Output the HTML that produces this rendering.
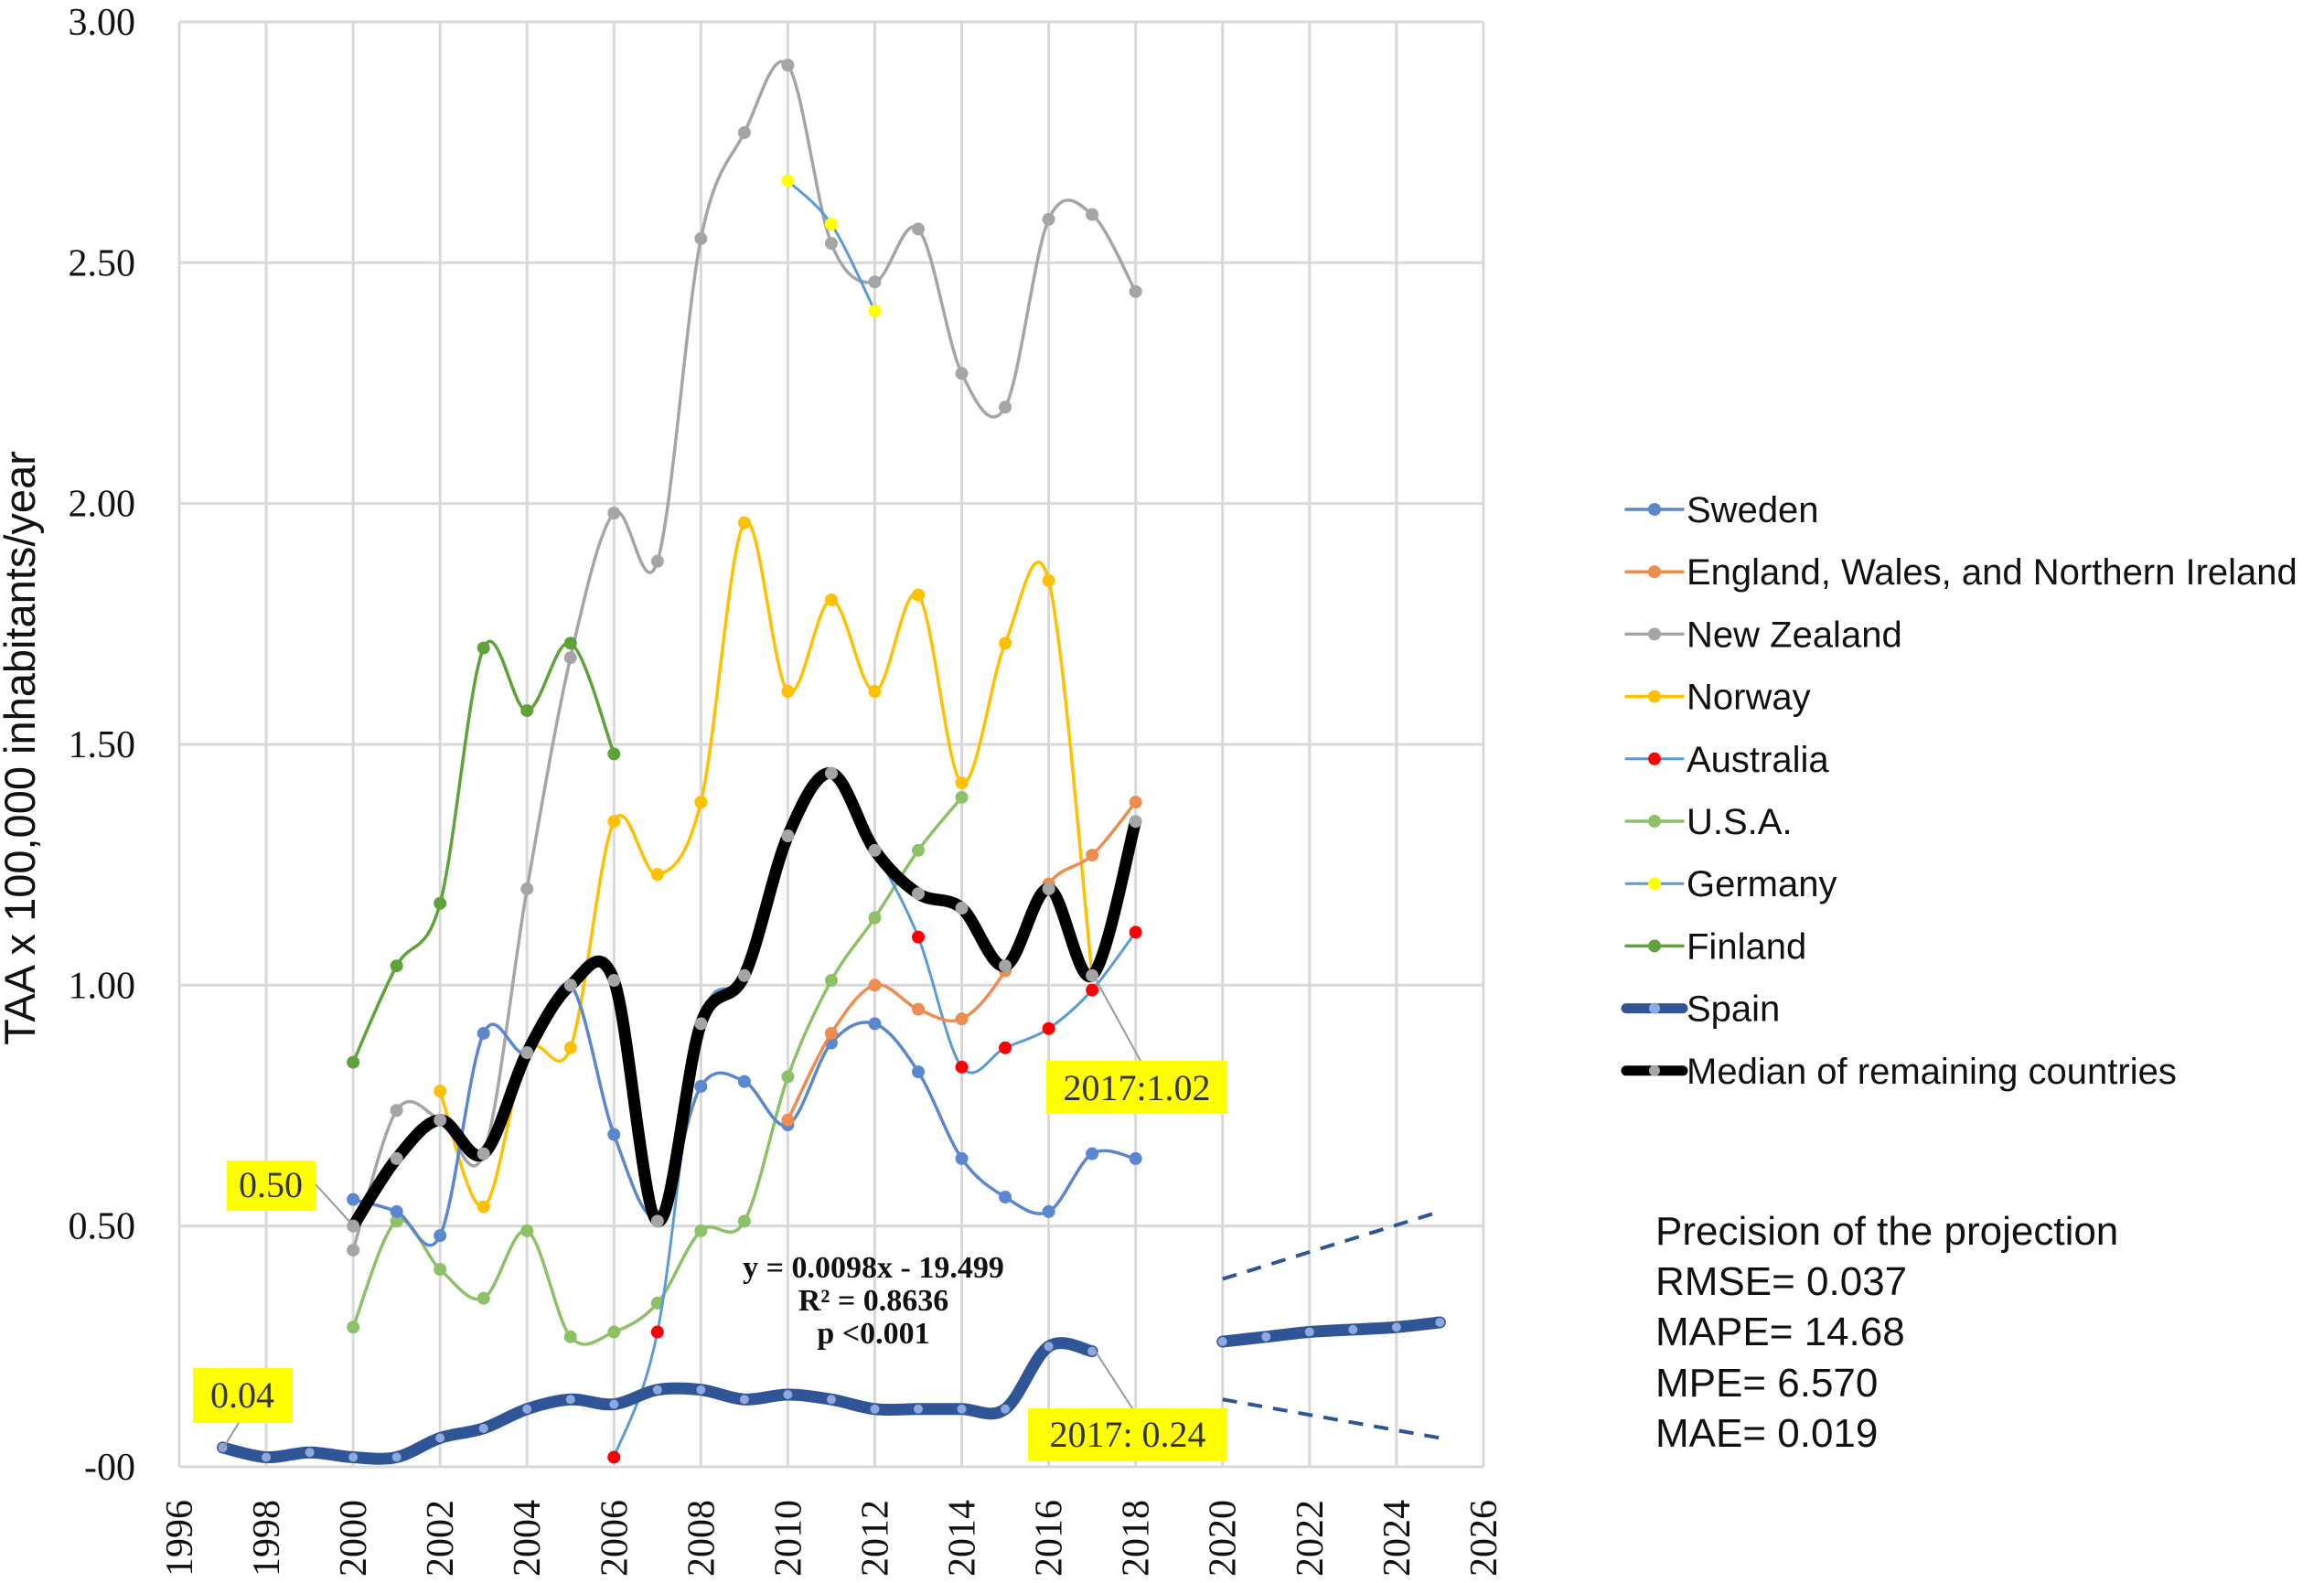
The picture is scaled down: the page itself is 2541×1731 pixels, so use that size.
<!DOCTYPE html>
<html><head><meta charset="utf-8"><style>
html,body{margin:0;padding:0;background:#fff;}
svg{display:block;}
</style></head><body>
<svg id="chart" width="2541" height="1731" viewBox="0 0 2541 1731" xmlns="http://www.w3.org/2000/svg">
<g id="grid"></g>
<g id="series"></g>
<g id="axes"></g>
<text transform="translate(38,818) rotate(-90)" text-anchor="middle" font-family="Liberation Sans, sans-serif" font-size="47" fill="#111">TAA x 100,000 inhabitants/year</text>
<g><line x1="345" y1="1295" x2="386" y2="1340" stroke="#999" stroke-width="2"/><rect x="248" y="1269" width="97" height="55" fill="#ffff00"/><text x="296" y="1309" text-anchor="middle" font-family="Liberation Serif, serif" font-size="40" fill="#333">0.50</text></g>
<g><line x1="261" y1="1556" x2="243" y2="1585" stroke="#999" stroke-width="2"/><rect x="211" y="1496" width="109" height="60" fill="#ffff00"/><text x="265" y="1539" text-anchor="middle" font-family="Liberation Serif, serif" font-size="40" fill="#333">0.04</text></g>
<g><line x1="1196" y1="1067" x2="1247" y2="1160" stroke="#999" stroke-width="2"/><rect x="1144" y="1160" width="198" height="58" fill="#ffff00"/><text x="1243" y="1203" text-anchor="middle" font-family="Liberation Serif, serif" font-size="40" fill="#333">2017:1.02</text></g>
<g><line x1="1196" y1="1475" x2="1238" y2="1540" stroke="#999" stroke-width="2"/><rect x="1124" y="1540" width="218" height="57" fill="#ffff00"/><text x="1233" y="1582" text-anchor="middle" font-family="Liberation Serif, serif" font-size="40" fill="#333">2017: 0.24</text></g>
<g font-family="Liberation Serif, serif" font-size="34" fill="#111" text-anchor="middle" font-weight="bold">
<text x="955" y="1397">y = 0.0098x - 19.499</text>
<text x="955" y="1433">R² = 0.8636</text>
<text x="955" y="1469">p &lt;0.001</text>
</g>
<g id="legend"></g>
<g font-family="Liberation Sans, sans-serif" font-size="44" fill="#111">
<text x="1810" y="1361">Precision of the projection</text>
<text x="1810" y="1416">RMSE= 0.037</text>
<text x="1810" y="1471">MAPE= 14.68</text>
<text x="1810" y="1527">MPE= 6.570</text>
<text x="1810" y="1582">MAE= 0.019</text>
</g>
</svg>
<script>
const years = [1996,1997,1998,1999,2000,2001,2002,2003,2004,2005,2006,2007,2008,2009,2010,2011,2012,2013,2014,2015,2016,2017,2018];
const yTicks = [0,0.5,1,1.5,2,2.5,3];
const yTickLabels = ["-00","0.50","1.00","1.50","2.00","2.50","3.00"];
const xTicks = [1996,1998,2000,2002,2004,2006,2008,2010,2012,2014,2016,2018,2020,2022,2024,2026];

const swedenYears = [2000,2001,2002,2003,2004,2005,2006,2007,2008,2009,2010,2011,2012,2013,2014,2015,2016,2017,2018];
const swedenVals  = [0.555,0.53,0.48,0.90,0.86,1.00,0.69,0.52,0.79,0.80,0.71,0.88,0.92,0.82,0.64,0.56,0.53,0.65,0.64];
const englandYears = [2010,2011,2012,2013,2014,2015,2016,2017,2018];
const englandVals  = [0.72,0.90,1.00,0.95,0.93,1.03,1.21,1.27,1.38];
const nzYears = [2000,2001,2002,2003,2004,2005,2006,2007,2008,2009,2010,2011,2012,2013,2014,2015,2016,2017,2018];
const nzVals  = [0.45,0.74,0.72,0.65,1.20,1.68,1.98,1.88,2.55,2.77,2.91,2.54,2.46,2.57,2.27,2.20,2.59,2.60,2.44];
const norwayYears = [2002,2003,2004,2005,2006,2007,2008,2009,2010,2011,2012,2013,2014,2015,2016,2017];
const norwayVals  = [0.78,0.54,0.86,0.87,1.34,1.23,1.38,1.96,1.61,1.80,1.61,1.81,1.42,1.71,1.84,1.02];
const australiaYears = [2006,2007,2008,2009,2010,2011,2012,2013,2014,2015,2016,2017,2018];
const australiaVals  = [0.02,0.28,0.92,1.02,1.30,1.44,1.28,1.10,0.83,0.87,0.91,0.99,1.11];
const australiaMarked = [1,1,0,0,0,0,0,1,1,1,1,1,1];
const usaYears = [2000,2001,2002,2003,2004,2005,2006,2007,2008,2009,2010,2011,2012,2013,2014];
const usaVals  = [0.29,0.51,0.41,0.35,0.49,0.27,0.28,0.34,0.49,0.51,0.81,1.01,1.14,1.28,1.39];
const germanyYears = [2010,2011,2012];
const germanyVals  = [2.67,2.58,2.40];
const finlandYears = [2000,2001,2002,2003,2004,2005,2006];
const finlandVals  = [0.84,1.04,1.17,1.70,1.57,1.71,1.48];
const spainYears = [1997,1998,1999,2000,2001,2002,2003,2004,2005,2006,2007,2008,2009,2010,2011,2012,2013,2014,2015,2016,2017];
const spainVals  = [0.04,0.02,0.03,0.02,0.02,0.06,0.08,0.12,0.14,0.13,0.16,0.16,0.14,0.15,0.14,0.12,0.12,0.12,0.12,0.25,0.24];
const projYears = [2020,2021,2022,2023,2024,2025];
const projVals  = [0.26,0.27,0.28,0.285,0.29,0.30];
const projUpper = [0.39,0.53];
const projLower = [0.14,0.06];
const medianYears = [2000,2001,2002,2003,2004,2005,2006,2007,2008,2009,2010,2011,2012,2013,2014,2015,2016,2017,2018];
const medianVals  = [0.50,0.64,0.72,0.65,0.86,1.00,1.01,0.51,0.92,1.02,1.31,1.44,1.28,1.19,1.16,1.04,1.20,1.02,1.34];

const NS='http://www.w3.org/2000/svg';
const X0=196, XPX=47.53, Y0=1604, YPX=526.7;
function X(yr){return X0+(yr-1996)*XPX;}
function Y(v){return Y0-v*YPX;}
function mk(tag,attrs,parent){const e=document.createElementNS(NS,tag);for(const k in attrs)e.setAttribute(k,attrs[k]);parent.appendChild(e);return e;}
function smooth(pts){
  if(pts.length<2)return '';
  let d='M'+pts[0][0]+','+pts[0][1];
  for(let i=0;i<pts.length-1;i++){
    const p0=pts[i-1]||pts[i],p1=pts[i],p2=pts[i+1],p3=pts[i+2]||p2;
    const c1=[p1[0]+(p2[0]-p0[0])/6,p1[1]+(p2[1]-p0[1])/6];
    const c2=[p2[0]-(p3[0]-p1[0])/6,p2[1]-(p3[1]-p1[1])/6];
    d+=' C'+c1[0]+','+c1[1]+' '+c2[0]+','+c2[1]+' '+p2[0]+','+p2[1];
  }
  return d;
}
const grid=document.getElementById('grid');
for(let yr=1996;yr<=2026;yr+=2){
  const l=mk('line',{x1:X(yr),x2:X(yr),y1:Y(3),y2:Y(0),stroke:'#d9d9d9','stroke-width':3},grid);
  
  
}
yTicks.forEach(v=>{
  const l=mk('line',{x1:X(1996),x2:X(2026),y1:Y(v),y2:Y(v),stroke:'#d9d9d9','stroke-width':3},grid);
  
  
});
const axes=document.getElementById('axes');
yTicks.forEach((v,i)=>{
  const t=mk('text',{x:148,y:Y(v)+14,'text-anchor':'end','font-family':'Liberation Serif, serif','font-size':42,fill:'#111'},axes);
  t.textContent=yTickLabels[i];
  
  
});
xTicks.forEach(yr=>{
  const t=mk('text',{transform:'translate('+(X(yr)+14)+',1724) rotate(-90)','text-anchor':'start','font-family':'Liberation Serif, serif','font-size':42,fill:'#111'},axes);
  t.textContent=String(yr);
  
  
});
const S=document.getElementById('series');
function drawSeries(name,yrs,vals,line,lw,mfill,mr,marked){
  const g=mk('g',{},S);
  
  
  const pts=yrs.map((y,i)=>[X(y),Y(vals[i])]);
  const p=mk('path',{d:smooth(pts),fill:'none',stroke:line,'stroke-width':lw,'stroke-linecap':'round','stroke-linejoin':'round'},g);
  
  
  pts.forEach((q,i)=>{
    if(marked && !marked[i])return;
    const c=mk('circle',{cx:q[0],cy:q[1],r:mr,fill:mfill},g);
    
    
  });
}
drawSeries('new-zealand',nzYears,nzVals,'#a5a5a5',3.5,'#a5a5a5',7);
drawSeries('norway',norwayYears,norwayVals,'#ffc000',3.5,'#ffc000',7);
drawSeries('finland',finlandYears,finlandVals,'#5ea33a',3.5,'#5ea33a',7);
drawSeries('usa',usaYears,usaVals,'#8cc168',3.5,'#8cc168',7);
drawSeries('australia',australiaYears,australiaVals,'#5b9bd5',3,'#ff0000',7,australiaMarked);
drawSeries('sweden',swedenYears,swedenVals,'#5b86d0',3.5,'#5b86d0',7);
drawSeries('england',englandYears,englandVals,'#ed8d4f',3.5,'#ed8d4f',7);
drawSeries('germany',germanyYears,germanyVals,'#5b9bd5',3,'#ffff00',7);
drawSeries('median',medianYears,medianVals,'#000',13,'#a5a5a5',7);
drawSeries('spain',spainYears,spainVals,'#2f5597',13,'#8fa9dc',5);
drawSeries('spain-projection',projYears,projVals,'#2f5597',13,'#8fa9dc',5);
const up=mk('line',{x1:X(2020),y1:Y(projUpper[0]),x2:X(2025),y2:Y(projUpper[1]),stroke:'#2f5597','stroke-width':4,'stroke-dasharray':'16,12'},S);


const lo=mk('line',{x1:X(2020),y1:Y(projLower[0]),x2:X(2025),y2:Y(projLower[1]),stroke:'#2f5597','stroke-width':4,'stroke-dasharray':'16,12'},S);



const legendNames=['Sweden','England, Wales, and Northern Ireland','New Zealand','Norway','Australia','U.S.A.','Germany','Finland','Spain','Median of remaining countries'];
const legendLine=['#5b86d0','#ed8d4f','#a5a5a5','#ffc000','#5b9bd5','#8cc168','#5b9bd5','#5ea33a','#2f5597','#000'];
const legendMark=['#5b86d0','#ed8d4f','#a5a5a5','#ffc000','#ff0000','#8cc168','#ffff00','#5ea33a','#8fa9dc','#a5a5a5'];
const legendW=[3.5,3.5,3.5,3.5,3,3.5,3,3.5,11,11];
const L=document.getElementById('legend');
legendNames.forEach((n,i)=>{
  const y=557+i*68.2;
  const g=mk('g',{},L);
  
  
  mk('line',{x1:1778,x2:1840,y1:y,y2:y,stroke:legendLine[i],'stroke-width':legendW[i],'stroke-linecap':'round'},g);
  mk('circle',{cx:1809,cy:y,r:legendW[i]>5?6:7,fill:legendMark[i]},g);
  const t=mk('text',{x:1844,y:y+14,'font-family':'Liberation Sans, sans-serif','font-size':40,fill:'#111'},g);
  t.textContent=n;
});
</script>
</body></html>
